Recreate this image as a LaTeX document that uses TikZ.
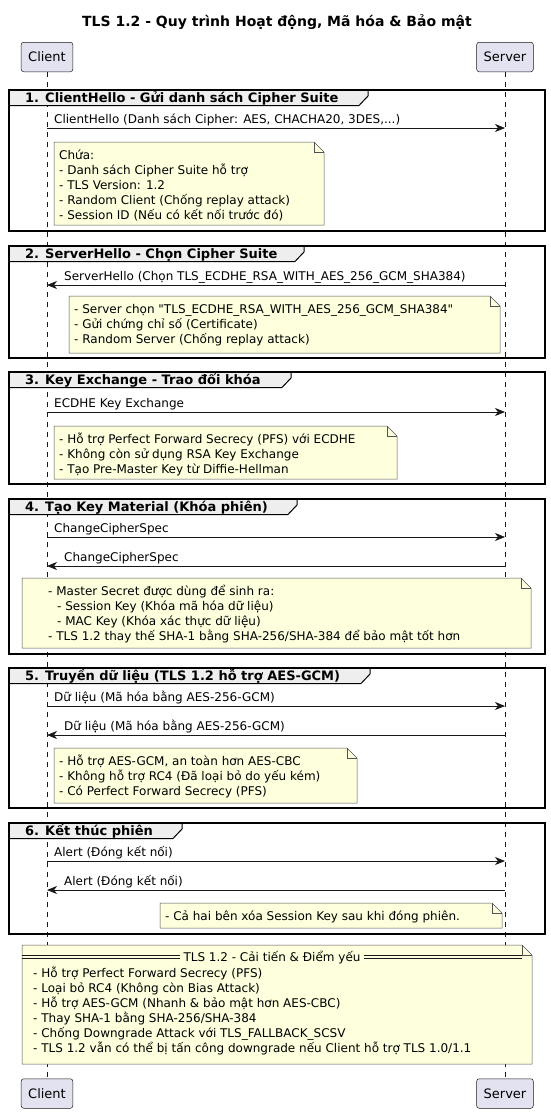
\documentclass[tikz,border=0pt]{standalone}
\usepackage{fontspec}
\setmainfont{DejaVu Sans}
\newfontfamily\plainfont{DejaVu Sans}
\usetikzlibrary{arrows.meta}

\definecolor{ink}{HTML}{181818}
\definecolor{partfill}{HTML}{E2E2F0}
\definecolor{notefill}{HTML}{FEFFDD}
\definecolor{tabfill}{HTML}{EEEEEE}

\tikzset{
  part/.style={draw=ink, fill=partfill, line width=0.5pt, rounded corners=2.5pt,
    minimum height=29.5pt, inner xsep=7pt, font=\fontsize{13}{15}\selectfont},
  lifeline/.style={draw=ink, line width=0.5pt, dash pattern=on 5pt off 5pt},
  msg/.style={draw=ink, line width=0.8pt, -{Stealth[length=10pt,width=8pt,inset=3pt]}},
  msglabel/.style={anchor=base west, inner sep=0pt, font=\fontsize{12}{15}\selectfont},
  notebox/.style={draw=ink!75, fill=notefill, line width=0.5pt},
  notetext/.style={anchor=north west, inner sep=0pt, align=left, font=\fontsize{12}{15}\selectfont},
  dblrule/.style={draw=ink, line width=0.7pt},
  grpframe/.style={draw=black, line width=1.5pt},
  grptab/.style={draw=black, fill=tabfill, line width=1pt},
  grplabel/.style={anchor=base west, inner sep=0pt, font=\bfseries\fontsize{13}{15}\selectfont},
  titletext/.style={inner sep=0pt, font=\bfseries\fontsize{14}{16}\selectfont},
}

\newcommand{\tlsnote}[4]{%
  \draw[notebox] (#1,#2) -- ({#3-10},#2) -- (#3,{#2+10}) -- (#3,#4) -- (#1,#4) -- cycle;
  \draw[notebox, fill=none] ({#3-10},#2) -- ({#3-10},{#2+10}) -- (#3,{#2+10});
}

\newcommand{\tlsgroup}[5]{%
  \draw[grptab] (9,#2) -- (#4,#2) -- (#4,{#2+6}) -- ({#4-9},{#2+15.5}) -- (9,{#2+15.5}) -- cycle;
  \draw[grpframe] (9,#2) rectangle (545,#3);
  \node[grplabel] (#1) at (25,{#2+12.5}) {#5};
}

\begin{document}
\begin{tikzpicture}[x=1pt,y=-1pt]
\useasboundingbox (0,0) rectangle (550,1114);

\node[titletext] (title) at (277,22) {TLS 1.2 - Quy trình Hoạt động, Mã hóa \& Bảo mật};

\node[part] (cT) at (47,57) {Client};
\node[part] (sT) at (505,57) {Server};
\node[part] (cB) at (47,1093.5) {Client};
\node[part] (sB) at (505,1093.5) {Server};
\draw[lifeline] (cT) -- (cB);
\draw[lifeline] (sT) -- (sB);

\tlsgroup{g1}{90}{231}{368}{1. ClientHello - Gửi danh sách Cipher Suite}
\coordinate (c1) at (47,128);
\coordinate (s1) at (505,128);
\draw[msg] (c1) -- (s1);
\node[msglabel] (m1) at (54,123.5) {ClientHello (Danh sách Cipher: AES, CHACHA20, 3DES,...)};
\tlsnote{54}{142}{324}{225}
\node[notetext] (n1) at (59,147) {\rule{0pt}{12pt}Chứa:\\- Danh sách Cipher Suite hỗ trợ\\- TLS Version: 1.2\\- Random Client (Chống replay attack)\\- Session ID (Nếu có kết nối trước đó)};

\tlsgroup{g2}{246}{358}{304}{2. ServerHello - Chọn Cipher Suite}
\coordinate (c2) at (47,285);
\coordinate (s2) at (505,285);
\draw[msg] (s2) -- (c2);
\node[msglabel] (m2) at (64,280.5) {ServerHello (Chọn TLS\_ECDHE\_RSA\_WITH\_AES\_256\_GCM\_SHA384)};
\tlsnote{69}{296}{500}{353}
\node[notetext] (n2) at (74,301) {\rule{0pt}{12pt}- Server chọn {\plainfont"}TLS\_ECDHE\_RSA\_WITH\_AES\_256\_GCM\_SHA384{\plainfont"}\\- Gửi chứng chỉ số (Certificate)\\- Random Server (Chống replay attack)};

\tlsgroup{g3}{372}{484}{291}{3. Key Exchange - Trao đổi khóa}
\coordinate (c3) at (47,412);
\coordinate (s3) at (505,412);
\draw[msg] (c3) -- (s3);
\node[msglabel] (m3) at (54,407.5) {ECDHE Key Exchange};
\tlsnote{54}{426}{397}{479}
\node[notetext] (n3) at (59,431) {\rule{0pt}{12pt}- Hỗ trợ Perfect Forward Secrecy (PFS) với ECDHE\\- Không còn sử dụng RSA Key Exchange\\- Tạo Pre-Master Key từ Diffie-Hellman};

\tlsgroup{g4}{499}{654}{297}{4. Tạo Key Material (Khóa phiên)}
\coordinate (c4a) at (47,537);
\coordinate (s4a) at (505,537);
\draw[msg] (c4a) -- (s4a);
\node[msglabel] (m4a) at (54,532.5) {ChangeCipherSpec};
\coordinate (c4b) at (47,566);
\coordinate (s4b) at (505,566);
\draw[msg] (s4b) -- (c4b);
\node[msglabel] (m4b) at (64,561.5) {ChangeCipherSpec};
\tlsnote{22}{578}{531}{648}
\node[notetext] (n4) at (27,583) {\rule{0pt}{12pt}\hspace*{21pt}- Master Secret được dùng để sinh ra:\\\hspace*{30pt}- Session Key (Khóa mã hóa dữ liệu)\\\hspace*{30pt}- MAC Key (Khóa xác thực dữ liệu)\\\hspace*{21pt}- TLS 1.2 thay thế SHA-1 bằng SHA-256/SHA-384 để bảo mật tốt hơn};

\tlsgroup{g5}{668}{808}{370}{5. Truyền dữ liệu (TLS 1.2 hỗ trợ AES-GCM)}
\coordinate (c5a) at (47,706);
\coordinate (s5a) at (505,706);
\draw[msg] (c5a) -- (s5a);
\node[msglabel] (m5a) at (54,701.5) {Dữ liệu (Mã hóa bằng AES-256-GCM)};
\coordinate (c5b) at (47,735);
\coordinate (s5b) at (505,735);
\draw[msg] (s5b) -- (c5b);
\node[msglabel] (m5b) at (64,730.5) {Dữ liệu (Mã hóa bằng AES-256-GCM)};
\tlsnote{54}{748}{357}{803}
\node[notetext] (n5) at (59,753) {\rule{0pt}{12pt}- Hỗ trợ AES-GCM, an toàn hơn AES-CBC\\- Không hỗ trợ RC4 (Đã loại bỏ do yếu kém)\\- Có Perfect Forward Secrecy (PFS)};

\tlsgroup{g6}{823}{934}{182}{6. Kết thúc phiên}
\coordinate (c6a) at (47,861);
\coordinate (s6a) at (505,861);
\draw[msg] (c6a) -- (s6a);
\node[msglabel] (m6a) at (54,856.5) {Alert (Đóng kết nối)};
\coordinate (c6b) at (47,890);
\coordinate (s6b) at (505,890);
\draw[msg] (s6b) -- (c6b);
\node[msglabel] (m6b) at (64,885.5) {Alert (Đóng kết nối)};
\tlsnote{160}{903}{502}{928}
\node[notetext] (n6) at (165,908) {\rule{0pt}{12pt}- Cả hai bên xóa Session Key sau khi đóng phiên.};

\tlsnote{22}{945}{532}{1064}
\node[msglabel, anchor=base] (sumtitle) at (272,961) {TLS 1.2 - Cải tiến \& Điểm yếu};
\coordinate (sumL) at (22,956.7);
\coordinate (sumR) at (522,956.7);
\coordinate (sumLe) at ([xshift=-3pt]sumtitle.west);
\coordinate (sumRe) at ([xshift=3pt]sumtitle.east);
\draw[dblrule] ([yshift=1.2pt]sumL) -- ([yshift=1.2pt]sumL -| sumLe);
\draw[dblrule] ([yshift=-1.2pt]sumL) -- ([yshift=-1.2pt]sumL -| sumLe);
\draw[dblrule] ([yshift=1.2pt]sumR -| sumRe) -- ([yshift=1.2pt]sumR);
\draw[dblrule] ([yshift=-1.2pt]sumR -| sumRe) -- ([yshift=-1.2pt]sumR);
\node[notetext] (sum) at (33,965) {\rule{0pt}{12pt}- Hỗ trợ Perfect Forward Secrecy (PFS)\\- Loại bỏ RC4 (Không còn Bias Attack)\\- Hỗ trợ AES-GCM (Nhanh \& bảo mật hơn AES-CBC)\\- Thay SHA-1 bằng SHA-256/SHA-384\\- Chống Downgrade Attack với TLS\_FALLBACK\_SCSV\\- TLS 1.2 vẫn có thể bị tấn công downgrade nếu Client hỗ trợ TLS 1.0/1.1};
\end{tikzpicture}
\end{document}
